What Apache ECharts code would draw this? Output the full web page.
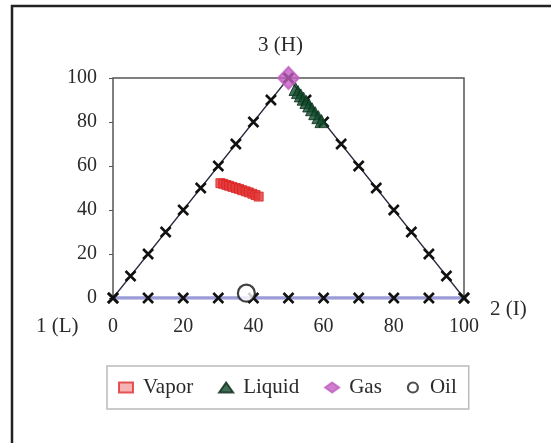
<!DOCTYPE html>
<html><head><meta charset="utf-8">
<script src="https://cdn.jsdelivr.net/npm/echarts@6/dist/echarts.min.js"></script>
<style>html,body{margin:0;padding:0;background:#fff}#c{width:551px;height:443px}</style>
</head><body><div id="c"></div>
<script>
// Ternary diagram data (projected onto x: 0-100, y: 0-100)
var leftEdgeX = [0,5,10,15,20,25,30,35,40,45,50];
var leftEdgeY = [0,10,20,30,40,50,60,70,80,90,100];
var rightEdgeX = [50,55,60,65,70,75,80,85,90,95,100];
var rightEdgeY = [100,90,80,70,60,50,40,30,20,10,0];
var bottomX = [0,10,20,30,40,50,60,70,80,90,100];
var bottomY = [0,0,0,0,0,0,0,0,0,0,0];
var vaporX = [30.6,31.4,32.3,33.1,34.0,35.0,35.9,36.8,37.8,38.7,39.7,40.6,41.5];
var vaporY = [52.2,51.9,51.4,51.0,50.5,50.0,49.6,49.0,48.5,48.0,47.4,46.8,46.1];
var liquidX = [52.0,52.7,53.5,54.3,55.1,55.9,56.7,57.6,58.5,59.4];
var liquidY = [95.0,93.6,92.1,90.6,89.1,87.5,85.8,84.0,82.2,80.4];
var gasX = [50];
var gasY = [100];
var oilX = [38];
var oilY = [2.2];
var cornerLabels = ['3 (H)','2 (I)','1 (L)'];
var seriesNames = ['Vapor','Liquid','Gas','Oil'];

function zip(a,b){return a.map(function(v,i){return [v,b[i]];});}
var chart = echarts.init(document.getElementById('c'), null, {renderer:'canvas'});
var font = '"Liberation Serif","Times New Roman",serif';
var cross = 'path://M0,0L10,10M10,0L0,10';
var edgeMarker = {symbol: cross, symbolSize: 10, itemStyle:{color:'transparent', borderColor:'#111', borderWidth:2.6}};
var txt = '#2a2a2a';
chart.setOption({
  animation:false,
  textStyle:{fontFamily:font},
  grid:{left:113, right:87, top:78, bottom:145, show:true, borderColor:'#555', borderWidth:1.5, backgroundColor:'#fff'},
  xAxis:{type:'value', min:0, max:100, interval:20, splitLine:{show:false},
    axisLine:{show:false}, axisTick:{show:false},
    axisLabel:{margin:19, color:txt, fontSize:20, fontFamily:font}},
  yAxis:{type:'value', min:0, max:100, interval:20, splitLine:{show:false},
    axisLine:{show:false}, axisTick:{show:true, length:4, lineStyle:{color:'#555'}},
    axisLabel:{margin:16, color:txt, fontSize:20, fontFamily:font}},
  legend:{data:[
      {name:'Vapor', itemStyle:{color:'#f2a0a0', borderColor:'#e03030', borderWidth:2}},
      {name:'Liquid'},{name:'Gas'},
      {name:'Oil', itemStyle:{color:'#fff', borderColor:'#222', borderWidth:2.2}}],
    left:107, top:366, width:365, height:42,
    padding:[11,12,11,11], itemGap:25, borderColor:'#bbb', borderWidth:1.5,
    itemWidth:14, itemHeight:10,
    textStyle:{fontSize:21, fontFamily:font, color:txt, padding:[0,0,0,5]}},
  graphic:[
    {type:'polyline', shape:{points:[[12,460],[12,6],[560,6]]}, style:{fill:'none', stroke:'#222', lineWidth:2.5}, silent:true},
    {type:'text', x:258, y:35, style:{text:cornerLabels[0], font:'21px '+font, fill:txt}},
    {type:'text', x:490, y:299, style:{text:cornerLabels[1], font:'21px '+font, fill:txt}},
    {type:'text', x:36, y:316, style:{text:cornerLabels[2], font:'21px '+font, fill:txt}}
  ],
  series:[
    Object.assign({type:'line', name:'bottom', data:zip(bottomX,bottomY), lineStyle:{color:'#9c9cd8', width:3.5}, z:2}, edgeMarker),
    Object.assign({type:'line', name:'left', data:zip(leftEdgeX,leftEdgeY), lineStyle:{color:'#2a2a40', width:1.3}, z:2}, edgeMarker),
    Object.assign({type:'line', name:'right', data:zip(rightEdgeX,rightEdgeY), lineStyle:{color:'#2a2a40', width:1.3}, z:2}, edgeMarker),
    {type:'scatter', name:'Vapor', data:zip(vaporX,vaporY), symbol:'rect', symbolSize:9,
      itemStyle:{color:'#e33a3a', borderColor:'#d82020', borderWidth:1}, z:4},
    {type:'scatter', name:'Liquid', data:zip(liquidX,liquidY), symbol:'triangle', symbolSize:13,
      itemStyle:{color:'#124a2c', borderColor:'#0a2a18', borderWidth:1}, z:4},
    {type:'scatter', name:'Gas', data:zip(gasX,gasY), symbol:'diamond', symbolSize:[21,22],
      itemStyle:{color:'#c25ec0', borderColor:'#c25ec0', borderWidth:2}, z:5},
    {type:'scatter', name:'Oil', data:zip(oilX,oilY), symbol:'circle', symbolSize:17,
      itemStyle:{color:'#fff', borderColor:'#111', borderWidth:2.2}, z:5}
  ]
});
</script></body></html>
